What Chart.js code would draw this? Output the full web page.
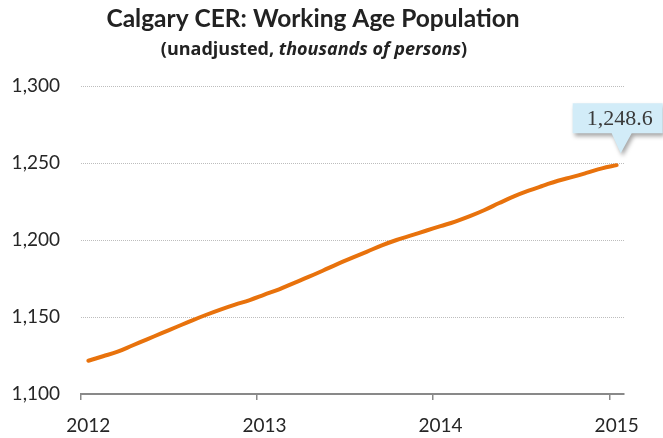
<!DOCTYPE html>
<html>
<head>
<meta charset="utf-8">
<script src="https://cdn.jsdelivr.net/npm/chart.js@4.4.1/dist/chart.umd.min.js"></script>
<style>
  html, body { margin: 0; padding: 0; background: #fff; }
  #wrap { width: 663px; height: 438px; }
</style>
</head>
<body>
<div id="wrap"><canvas id="chart" width="663" height="438"></canvas></div>
<script>
// Calgary CER working age population, monthly, Jan 2012 - Jan 2015 (thousands)
const years = ["2012", "2013", "2014", "2015"];
const monthNames = ["Jan", "Feb", "Mar", "Apr", "May", "Jun", "Jul", "Aug", "Sep", "Oct", "Nov", "Dec"];
const population = [
  1121.6, 1124.5, 1127.5, 1131.5, 1135.5, 1139.5, 1143.5, 1147.5, 1151.3, 1154.8, 1158.0, 1161.0,
  1164.5, 1168.0, 1172.0, 1176.0, 1180.2, 1184.5, 1188.5, 1192.5, 1196.5, 1200.0, 1203.0, 1206.0,
  1209.0, 1212.0, 1215.5, 1219.5, 1224.0, 1228.3, 1232.0, 1235.3, 1238.5, 1241.0, 1243.7, 1246.5,
  1248.6
];
const yTicks = [1100, 1150, 1200, 1250, 1300];
const titleText = "Calgary CER: Working Age Population";
const subtitleParts = [["(unadjusted, ", "bold"], ["thousands of persons", "italic bold"], [")", "bold"]];
const calloutText = "1,248.6";

// one category per month; only January gets a year label
const categories = [];
years.forEach((y, i) => {
  const n = i < years.length - 1 ? 12 : 1;
  for (let m = 0; m < n; m++) categories.push(monthNames[m] + " " + y);
});

const FONT = "Lato, 'Open Sans', sans-serif";
const SUBFONT = "'Open Sans', Lato, sans-serif";

const headings = {
  id: "headings",
  afterDraw(chart) {
    const ctx = chart.ctx;
    ctx.save();
    ctx.fillStyle = "#222";
    ctx.textAlign = "center";
    ctx.textBaseline = "alphabetic";
    ctx.font = "bold 24.5px " + FONT;
    ctx.fillText(titleText, 313, 27);

    // subtitle, partly italic
    ctx.textAlign = "left";
    let total = 0;
    subtitleParts.forEach(p => { ctx.font = p[1] + " 18px " + SUBFONT; total += ctx.measureText(p[0]).width; });
    let x = 314 - total / 2;
    subtitleParts.forEach(p => {
      ctx.font = p[1] + " 18px " + SUBFONT;
      ctx.fillText(p[0], x, 55);
      x += ctx.measureText(p[0]).width;
    });

    // value callout on last point
    const meta = chart.getDatasetMeta(0);
    const pt = meta.data[meta.data.length - 1];
    const px = pt.x, py = pt.y;
    ctx.shadowColor = "rgba(0,0,0,0.35)";
    ctx.shadowBlur = 4;
    ctx.shadowOffsetX = 2;
    ctx.shadowOffsetY = 3;
    ctx.fillStyle = "#d2ecf8";
    ctx.beginPath();
    ctx.moveTo(px - 44, py - 62);
    ctx.lineTo(px + 46, py - 62);
    ctx.lineTo(px + 46, py - 32);
    ctx.lineTo(px + 15, py - 32);
    ctx.lineTo(px + 4, py - 12);
    ctx.lineTo(px - 5, py - 32);
    ctx.lineTo(px - 44, py - 32);
    ctx.closePath();
    ctx.fill();
    ctx.shadowColor = "transparent";
    ctx.fillStyle = "#3a3a3a";
    ctx.textAlign = "center";
    ctx.textBaseline = "middle";
    ctx.font = "22px 'Liberation Serif', 'DejaVu Serif', serif";
    ctx.fillText(calloutText, px + 3, py - 46);
    ctx.restore();
  }
};

new Chart(document.getElementById("chart").getContext("2d"), {
  type: "line",
  data: {
    labels: categories,
    datasets: [{
      data: population,
      borderColor: "#e8720c",
      borderWidth: 4,
      borderCapStyle: "round",
      pointRadius: 0,
      tension: 0.4,
      fill: false
    }]
  },
  options: {
    responsive: false,
    animation: false,
    layout: { padding: { top: 86, right: 39, left: 0, bottom: 0 } },
    plugins: {
      legend: { display: false },
      tooltip: { enabled: false },
      title: { display: false }
    },
    scales: {
      x: {
        type: "category",
        offset: true,
        border: { display: true, color: "#898989", width: 2 },
        grid: {
          offset: true,
          drawOnChartArea: false,
          tickLength: 6,
          lineWidth: 1.5,
          color: ctx => (ctx.index % 12 === 0 ? "#898989" : "transparent")
        },
        ticks: {
          autoSkip: false,
          maxRotation: 0,
          padding: 14,
          color: "#262626",
          font: { family: FONT, size: 19 },
          callback: (v, i) => (i % 12 === 0 ? years[i / 12] : "")
        },
        afterFit: s => { s.height = 44; }
      },
      y: {
        min: yTicks[0],
        max: yTicks[yTicks.length - 1],
        border: { display: false, dash: [1, 1] },
        grid: { color: "#bdbdbd", lineWidth: 1, drawTicks: false },
        afterBuildTicks: s => { s.ticks = yTicks.map(v => ({ value: v })); },
        ticks: {
          padding: 21,
          color: "#262626",
          font: { family: FONT, size: 19 },
          callback: v => v.toLocaleString("en-US")
        },
        afterFit: s => { s.width = 81; }
      }
    }
  },
  plugins: [headings]
});
</script>
</body>
</html>
